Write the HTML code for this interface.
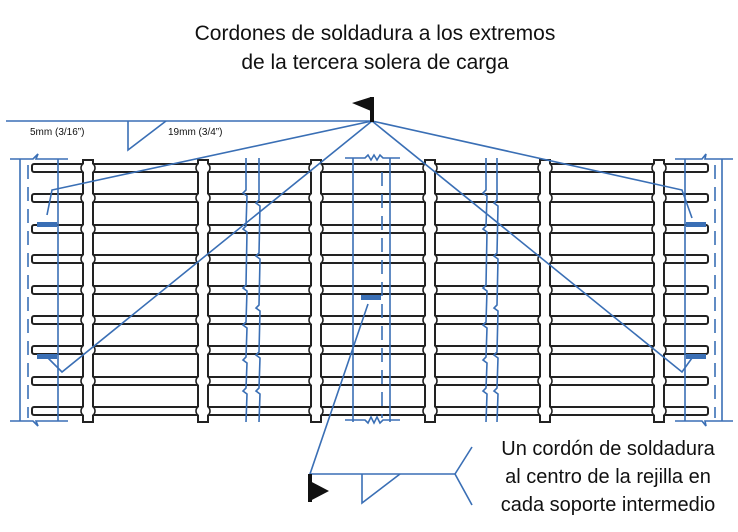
<!DOCTYPE html>
<html><head><meta charset="utf-8"><style>
html,body{margin:0;padding:0;background:#fff;}
svg{display:block;}
text{font-family:"Liberation Sans",sans-serif;fill:#111;}
</style></head><body>
<svg width="738" height="532" viewBox="0 0 738 532" xmlns="http://www.w3.org/2000/svg">
<defs>
<g id="cb" fill="#fff" stroke="#222" stroke-width="2">
<rect x="-5" y="160" width="10" height="262"/>
<g stroke-width="1.6">
<ellipse cx="0" cy="168" rx="7" ry="6"/><ellipse cx="0" cy="198" rx="7" ry="6"/><ellipse cx="0" cy="229" rx="7" ry="6"/><ellipse cx="0" cy="259" rx="7" ry="6"/><ellipse cx="0" cy="290" rx="7" ry="6"/><ellipse cx="0" cy="320" rx="7" ry="6"/><ellipse cx="0" cy="350" rx="7" ry="6"/><ellipse cx="0" cy="381" rx="7" ry="6"/><ellipse cx="0" cy="411" rx="7" ry="6"/>
</g>
<rect x="-4" y="161" width="8" height="260" stroke="none"/>
</g>
</defs>
<text x="375" y="40" font-size="21" text-anchor="middle">Cordones de soldadura a los extremos</text>
<text x="375" y="69" font-size="21" text-anchor="middle">de la tercera solera de carga</text>
<g fill="#fff" stroke="#222" stroke-width="2">
<rect x="32" y="164" width="676" height="8" rx="2"/>
<rect x="32" y="194" width="676" height="8" rx="2"/>
<rect x="32" y="225" width="676" height="8" rx="2"/>
<rect x="32" y="255" width="676" height="8" rx="2"/>
<rect x="32" y="286" width="676" height="8" rx="2"/>
<rect x="32" y="316" width="676" height="8" rx="2"/>
<rect x="32" y="346" width="676" height="8" rx="2"/>
<rect x="32" y="377" width="676" height="8" rx="2"/>
<rect x="32" y="407" width="676" height="8" rx="2"/>
</g>
<use href="#cb" x="88"/><use href="#cb" x="203"/><use href="#cb" x="316"/><use href="#cb" x="430"/><use href="#cb" x="545"/><use href="#cb" x="659"/>
<g fill="none" stroke="#3a6fb5" stroke-width="1.6">
<polyline points="6,121 372,121"/>
<polyline points="128,121 128,150 166,121"/>
<polyline points="372,121 52,190 47,215"/>
<polyline points="372,121 62,372 48,358"/>
<polyline points="372,121 682,190 692,218"/>
<polyline points="372,121 682,372 692,358"/>
<polyline points="368,304 310,474 455,474"/>
<polyline points="362,474 362,503 400,474"/>
<polyline points="472,447 455,474 472,505"/>
<line x1="20" y1="159" x2="20" y2="421"/>
<line x1="28" y1="165" x2="28" y2="418" stroke-dasharray="14,8"/>
<line x1="58" y1="159" x2="58" y2="421"/>
<polyline points="10,159 33,159 38,154 36,159 68,159"/>
<polyline points="10,421 33,421 38,426 36,421 68,421"/>
<line x1="685" y1="159" x2="685" y2="421"/>
<line x1="715" y1="165" x2="715" y2="418" stroke-dasharray="14,8"/>
<line x1="722" y1="159" x2="722" y2="421"/>
<polyline points="675,159 702,159 706,154 705,159 733,159"/>
<polyline points="675,421 702,421 706,426 705,421 733,421"/>
<line x1="353" y1="158" x2="353" y2="422"/>
<line x1="390" y1="158" x2="390" y2="422"/>
<line x1="382" y1="172" x2="382" y2="418" stroke-dasharray="14,8"/>
<polyline points="345,158 365,158 368,155 371,160 374,155 377,160 380,155 383,158 400,158"/>
<polyline points="345,420 365,420 368,423 371,417 374,423 377,417 380,423 383,420 400,420"/>
<polyline points="246,158 246,190 243,193 247,196 246,226 243,229 247,232 246,285 243,288 247,291 246,322 243,325 247,328 246,357 243,360 247,363 246,388 243,391 247,394 246,422"/>
<polyline points="259,158 259,200 256,203 260,206 259,253 256,256 260,259 259,305 256,308 260,311 259,352 256,355 260,358 259,388 256,391 260,394 259,422"/>
<polyline points="486,158 486,190 483,193 487,196 486,226 483,229 487,232 486,285 483,288 487,291 486,322 483,325 487,328 486,357 483,360 487,363 486,388 483,391 487,394 486,422"/>
<polyline points="497,158 497,200 494,203 498,206 497,253 494,256 498,259 497,305 494,308 498,311 497,352 494,355 498,358 497,388 494,391 498,394 497,422"/>
</g>
<g fill="#3a6fb5">
<rect x="37" y="222" width="20" height="5"/><rect x="37" y="354" width="20" height="5"/>
<rect x="686" y="222" width="20" height="5"/><rect x="686" y="354" width="20" height="5"/>
<rect x="361" y="295" width="20" height="5"/>
</g>
<g fill="#111">
<rect x="370" y="97" width="4" height="25"/>
<polygon points="371,97 352,103 371,111"/>
<rect x="308" y="474" width="4" height="28"/>
<polygon points="308,480 329,491 308,502"/>
</g>
<text x="30" y="135" font-size="10">5mm (3/16”)</text>
<text x="168" y="135" font-size="10">19mm (3/4”)</text>
<text x="608" y="455" font-size="20" text-anchor="middle">Un cordón de soldadura</text>
<text x="608" y="483" font-size="20" text-anchor="middle">al centro de la rejilla en</text>
<text x="608" y="511" font-size="20" text-anchor="middle">cada soporte intermedio</text>
</svg>
</body></html>
